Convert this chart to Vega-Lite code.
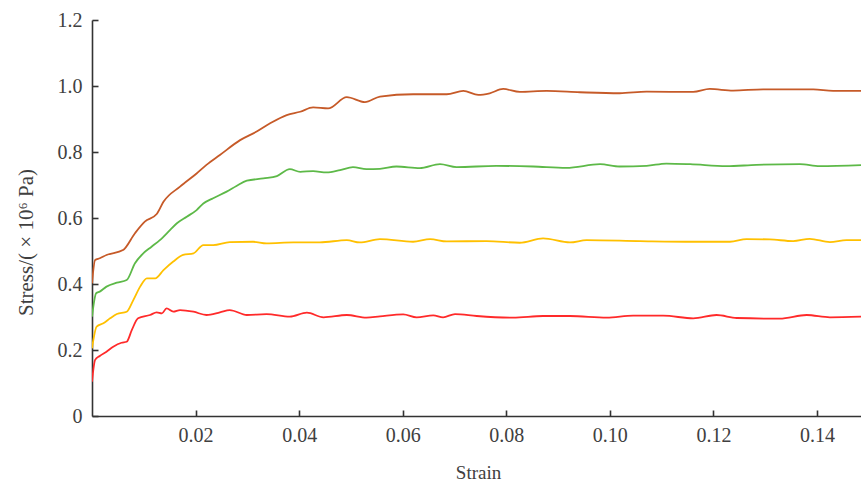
{
  "$schema": "https://vega.github.io/schema/vega-lite/v6.json",
  "width": 769,
  "height": 396,
  "autosize": {"type": "none"},
  "padding": {"left": 92, "top": 20, "right": 0, "bottom": 67},
  "background": "white",
  "config": {
    "view": {"stroke": null},
    "font": "Liberation Serif",
    "axis": {
      "domainColor": "#333333",
      "domainWidth": 1.6,
      "tickColor": "#333333",
      "tickWidth": 1.6,
      "tickSize": -6,
      "grid": false,
      "labelFont": "Liberation Serif",
      "labelFontSize": 20,
      "labelColor": "#404040",
      "titleFont": "Liberation Serif",
      "titleFontSize": 19,
      "titleFontWeight": "normal",
      "titleColor": "#404040"
    }
  },
  "data": {"values": [
    {"s":"A","x":0.0,"y":0.402},{"s":"A","x":0.0006,"y":0.473},{"s":"A","x":0.0015,"y":0.478},{"s":"A","x":0.0028,"y":0.488},{"s":"A","x":0.006,"y":0.503},{"s":"A","x":0.0083,"y":0.554},{"s":"A","x":0.0102,"y":0.589},{"s":"A","x":0.0125,"y":0.612},{"s":"A","x":0.0138,"y":0.649},{"s":"A","x":0.017,"y":0.695},{"s":"A","x":0.0202,"y":0.735},{"s":"A","x":0.0221,"y":0.761},{"s":"A","x":0.0247,"y":0.791},{"s":"A","x":0.0286,"y":0.836},{"s":"A","x":0.0318,"y":0.862},{"s":"A","x":0.0344,"y":0.887},{"s":"A","x":0.0376,"y":0.912},{"s":"A","x":0.0402,"y":0.922},{"s":"A","x":0.0427,"y":0.935},{"s":"A","x":0.0456,"y":0.932},{"s":"A","x":0.0492,"y":0.966},{"s":"A","x":0.0527,"y":0.951},{"s":"A","x":0.0556,"y":0.968},{"s":"A","x":0.062,"y":0.975},{"s":"A","x":0.0685,"y":0.975},{"s":"A","x":0.0717,"y":0.985},{"s":"A","x":0.0746,"y":0.973},{"s":"A","x":0.0768,"y":0.978},{"s":"A","x":0.0794,"y":0.991},{"s":"A","x":0.0826,"y":0.982},{"s":"A","x":0.0878,"y":0.985},{"s":"A","x":0.0942,"y":0.981},{"s":"A","x":0.1019,"y":0.978},{"s":"A","x":0.1071,"y":0.983},{"s":"A","x":0.1161,"y":0.982},{"s":"A","x":0.1193,"y":0.991},{"s":"A","x":0.1238,"y":0.986},{"s":"A","x":0.1296,"y":0.99},{"s":"A","x":0.1393,"y":0.99},{"s":"A","x":0.1431,"y":0.985},{"s":"A","x":0.1485,"y":0.985},
    {"s":"B","x":0.0,"y":0.301},{"s":"B","x":0.0008,"y":0.372},{"s":"B","x":0.0015,"y":0.377},{"s":"B","x":0.0028,"y":0.392},{"s":"B","x":0.0048,"y":0.404},{"s":"B","x":0.0067,"y":0.412},{"s":"B","x":0.0083,"y":0.463},{"s":"B","x":0.0099,"y":0.493},{"s":"B","x":0.0115,"y":0.513},{"s":"B","x":0.0131,"y":0.533},{"s":"B","x":0.0151,"y":0.564},{"s":"B","x":0.0164,"y":0.584},{"s":"B","x":0.0183,"y":0.604},{"s":"B","x":0.0202,"y":0.624},{"s":"B","x":0.0215,"y":0.644},{"s":"B","x":0.0234,"y":0.66},{"s":"B","x":0.026,"y":0.68},{"s":"B","x":0.0279,"y":0.697},{"s":"B","x":0.0299,"y":0.713},{"s":"B","x":0.0331,"y":0.72},{"s":"B","x":0.0357,"y":0.727},{"s":"B","x":0.0382,"y":0.748},{"s":"B","x":0.0402,"y":0.74},{"s":"B","x":0.0427,"y":0.742},{"s":"B","x":0.0453,"y":0.738},{"s":"B","x":0.0479,"y":0.745},{"s":"B","x":0.0504,"y":0.754},{"s":"B","x":0.053,"y":0.748},{"s":"B","x":0.0556,"y":0.749},{"s":"B","x":0.0588,"y":0.756},{"s":"B","x":0.0633,"y":0.751},{"s":"B","x":0.0672,"y":0.763},{"s":"B","x":0.0704,"y":0.754},{"s":"B","x":0.0781,"y":0.758},{"s":"B","x":0.0852,"y":0.756},{"s":"B","x":0.0916,"y":0.752},{"s":"B","x":0.0981,"y":0.763},{"s":"B","x":0.1019,"y":0.756},{"s":"B","x":0.1071,"y":0.758},{"s":"B","x":0.1109,"y":0.765},{"s":"B","x":0.1155,"y":0.763},{"s":"B","x":0.1225,"y":0.757},{"s":"B","x":0.1283,"y":0.761},{"s":"B","x":0.1367,"y":0.763},{"s":"B","x":0.1405,"y":0.757},{"s":"B","x":0.1485,"y":0.76},
    {"s":"C","x":0.0,"y":0.205},{"s":"C","x":0.0009,"y":0.271},{"s":"C","x":0.0022,"y":0.281},{"s":"C","x":0.0035,"y":0.296},{"s":"C","x":0.0048,"y":0.309},{"s":"C","x":0.0067,"y":0.316},{"s":"C","x":0.008,"y":0.352},{"s":"C","x":0.0093,"y":0.392},{"s":"C","x":0.0106,"y":0.417},{"s":"C","x":0.0122,"y":0.417},{"s":"C","x":0.0138,"y":0.442},{"s":"C","x":0.0157,"y":0.468},{"s":"C","x":0.0176,"y":0.488},{"s":"C","x":0.0196,"y":0.493},{"s":"C","x":0.0215,"y":0.518},{"s":"C","x":0.0234,"y":0.518},{"s":"C","x":0.0266,"y":0.527},{"s":"C","x":0.0311,"y":0.528},{"s":"C","x":0.0337,"y":0.523},{"s":"C","x":0.0389,"y":0.526},{"s":"C","x":0.044,"y":0.526},{"s":"C","x":0.0492,"y":0.533},{"s":"C","x":0.0517,"y":0.526},{"s":"C","x":0.0556,"y":0.536},{"s":"C","x":0.062,"y":0.528},{"s":"C","x":0.0653,"y":0.536},{"s":"C","x":0.0685,"y":0.529},{"s":"C","x":0.0762,"y":0.53},{"s":"C","x":0.0826,"y":0.525},{"s":"C","x":0.0871,"y":0.538},{"s":"C","x":0.0923,"y":0.526},{"s":"C","x":0.0955,"y":0.533},{"s":"C","x":0.1058,"y":0.53},{"s":"C","x":0.1161,"y":0.528},{"s":"C","x":0.1232,"y":0.528},{"s":"C","x":0.1264,"y":0.536},{"s":"C","x":0.1309,"y":0.535},{"s":"C","x":0.1354,"y":0.53},{"s":"C","x":0.1386,"y":0.537},{"s":"C","x":0.1425,"y":0.527},{"s":"C","x":0.1457,"y":0.533},{"s":"C","x":0.1485,"y":0.533},
    {"s":"D","x":0.0,"y":0.104},{"s":"D","x":0.0006,"y":0.17},{"s":"D","x":0.0015,"y":0.182},{"s":"D","x":0.0028,"y":0.195},{"s":"D","x":0.0041,"y":0.21},{"s":"D","x":0.0057,"y":0.222},{"s":"D","x":0.0067,"y":0.225},{"s":"D","x":0.0077,"y":0.261},{"s":"D","x":0.0089,"y":0.296},{"s":"D","x":0.0112,"y":0.306},{"s":"D","x":0.0125,"y":0.314},{"s":"D","x":0.0135,"y":0.311},{"s":"D","x":0.0144,"y":0.326},{"s":"D","x":0.0157,"y":0.316},{"s":"D","x":0.017,"y":0.321},{"s":"D","x":0.0196,"y":0.316},{"s":"D","x":0.0221,"y":0.306},{"s":"D","x":0.0247,"y":0.314},{"s":"D","x":0.0266,"y":0.321},{"s":"D","x":0.0299,"y":0.306},{"s":"D","x":0.0337,"y":0.309},{"s":"D","x":0.0382,"y":0.301},{"s":"D","x":0.0415,"y":0.313},{"s":"D","x":0.0447,"y":0.299},{"s":"D","x":0.0492,"y":0.306},{"s":"D","x":0.053,"y":0.298},{"s":"D","x":0.0556,"y":0.302},{"s":"D","x":0.0601,"y":0.308},{"s":"D","x":0.0627,"y":0.299},{"s":"D","x":0.0659,"y":0.305},{"s":"D","x":0.0678,"y":0.299},{"s":"D","x":0.0701,"y":0.309},{"s":"D","x":0.0743,"y":0.303},{"s":"D","x":0.0813,"y":0.298},{"s":"D","x":0.0871,"y":0.303},{"s":"D","x":0.0923,"y":0.303},{"s":"D","x":0.0994,"y":0.298},{"s":"D","x":0.1045,"y":0.304},{"s":"D","x":0.1103,"y":0.304},{"s":"D","x":0.1161,"y":0.296},{"s":"D","x":0.1206,"y":0.306},{"s":"D","x":0.1245,"y":0.297},{"s":"D","x":0.1328,"y":0.295},{"s":"D","x":0.138,"y":0.306},{"s":"D","x":0.1425,"y":0.299},{"s":"D","x":0.1485,"y":0.301}
  ]},
  "mark": {"type": "line", "strokeWidth": 1.8, "interpolate": "monotone", "clip": true},
  "encoding": {
    "x": {
      "field": "x", "type": "quantitative",
      "scale": {"domain": [0, 0.1485], "nice": false, "zero": false},
      "axis": {
        "title": "Strain",
        "values": [0.02, 0.04, 0.06, 0.08, 0.10, 0.12, 0.14],
        "format": ".2f",
        "labelPadding": 15,
        "titleX": 386,
        "titleY": 62,
        "titleBaseline": "alphabetic"
      }
    },
    "y": {
      "field": "y", "type": "quantitative",
      "scale": {"domain": [0, 1.2], "nice": false},
      "axis": {
        "title": "Stress/( × 10⁶ Pa)",
        "titleFontSize": 21,
        "values": [0, 0.2, 0.4, 0.6, 0.8, 1.0, 1.2],
        "labelExpr": "datum.value == 0 ? '0' : format(datum.value, '.1f')",
        "labelPadding": 16,
        "titleX": -60,
        "titleY": 222,
        "titleBaseline": "alphabetic"
      }
    },
    "color": {
      "field": "s", "type": "nominal",
      "scale": {"domain": ["A", "B", "C", "D"], "range": ["#C65A28", "#5DB948", "#FFC000", "#FF2A2A"]},
      "legend": null
    }
  }
}
